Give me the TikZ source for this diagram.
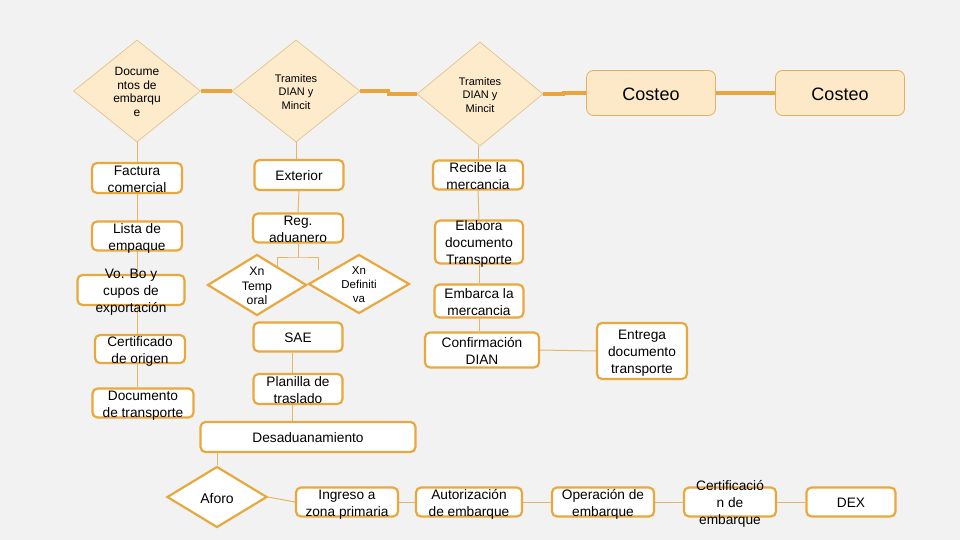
\documentclass[tikz,border=0pt]{standalone}
\usepackage{fontspec}
\setmainfont{Liberation Sans}
\usetikzlibrary{shapes.geometric,backgrounds}
\definecolor{bgc}{HTML}{F2F2F2}
\definecolor{boxc}{HTML}{E8A83E}
\definecolor{tdf}{HTML}{FDEBCB}
\definecolor{tdc}{HTML}{DFBE84}
\definecolor{lnc}{HTML}{E6B462}
\definecolor{tkc}{HTML}{E9A43C}
\definecolor{cstf}{HTML}{FDE9C8}
\definecolor{cstd}{HTML}{E2B160}
\newcommand{\tx}[1]{\raisebox{-0.45em}[0pt][0pt]{\makebox[0pt]{\begin{tabular}{@{}c@{}}#1\end{tabular}}}}
\newcommand{\fs}[2]{\fontsize{#1}{#2}\selectfont}

\begin{document}
\begin{tikzpicture}[x=1pt, y=-1pt,
    bx/.style={draw=boxc, line width=2.2pt, rounded corners=5pt, fill=white, inner sep=0pt, font=\fs{13.7}{17}},
    cst/.style={draw=cstd, line width=0.8pt, rounded corners=7pt, fill=cstf, inner sep=0pt,
      minimum width=129pt, minimum height=45pt, font=\fs{18}{21}},
    tdia/.style={diamond, draw=tdc, fill=tdf, line width=0.6pt, inner sep=0pt},
    xdia/.style={diamond, draw=boxc, fill=white, line width=2.2pt, inner sep=0pt},
    ln/.style={draw=lnc, line width=1pt},
    tk/.style={draw=tkc, line width=3.5pt},
  ]
  \begin{scope}[on background layer]
    \fill[bgc] (0,0) rectangle (960,540);
  \end{scope}
  \useasboundingbox (0,0) rectangle (960,540);

  \node[tdia, minimum width=127pt, minimum height=102pt, font=\fs{12}{13.5}] (d1) at (137,91) {\tx{Docume\\ntos de\\embarqu\\e}};
  \node[tdia, minimum width=128pt, minimum height=102pt, font=\fs{11}{13.5}] (d2) at (296,91) {\tx{Tramites\\DIAN y\\Mincit}};
  \node[tdia, minimum width=126pt, minimum height=104pt, font=\fs{11}{13.5}] (d3) at (480,94) {\tx{Tramites\\DIAN y\\Mincit}};
  \node[cst] (cst1) at (651,93) {\tx{Costeo}};
  \node[cst] (cst2) at (840,93) {\tx{Costeo}};

  \node[bx, minimum width=90pt, minimum height=30pt] (fac) at (137,178) {\tx{Factura\\comercial}};
  \node[bx, minimum width=90pt, minimum height=29pt] (lis) at (137,236) {\tx{Lista de\\empaque}};
  \node[bx, minimum width=107pt, minimum height=30pt] (vob) at (131,290) {\tx{Vo. Bo y\\cupos de\\exportación}};
  \node[bx, minimum width=90pt, minimum height=28pt] (cer) at (140,349) {\tx{Certificado\\de origen}};
  \node[bx, minimum width=101pt, minimum height=29pt] (doc) at (143,403) {\tx{Documento\\de transporte}};

  \node[bx, minimum width=89pt, minimum height=30pt] (ext) at (299,175) {\tx{Exterior}};
  \node[bx, minimum width=90pt, minimum height=29pt] (reg) at (298,228) {\tx{Reg.\\aduanero}};
  \node[xdia, minimum width=99pt, minimum height=61pt, font=\fs{12.3}{14.5}] (xt) at (257,285) {\tx{Xn\\Temp\\oral}};
  \node[xdia, minimum width=101pt, minimum height=59pt, font=\fs{11.5}{14}] (xd) at (359,284) {\tx{Xn\\Definiti\\va}};
  \node[bx, minimum width=89pt, minimum height=29pt] (sae) at (298,337) {\tx{SAE}};
  \node[bx, minimum width=89pt, minimum height=30pt] (pla) at (298,389) {\tx{Planilla de\\traslado}};
  \node[bx, minimum width=215pt, minimum height=30pt] (des) at (308,437) {\tx{Desaduanamiento}};

  \node[xdia, minimum width=100pt, minimum height=61pt, font=\fs{14}{17}] (afo) at (217,497) {\tx{Aforo}};
  \node[bx, minimum width=102pt, minimum height=29pt] (ing) at (347,502) {\tx{Ingreso a\\zona primaria}};
  \node[bx, minimum width=106pt, minimum height=29pt] (aut) at (469,502) {\tx{Autorización\\de embarque}};
  \node[bx, minimum width=102pt, minimum height=29pt] (ope) at (603,502) {\tx{Operación de\\embarque}};
  \node[bx, minimum width=92pt, minimum height=29pt] (cef) at (730,502) {\tx{Certificació\\n de\\embarque}};
  \node[bx, minimum width=89pt, minimum height=29pt] (dex) at (851,502) {\tx{DEX}};

  \node[bx, minimum width=90pt, minimum height=29pt] (rec) at (478,175) {\tx{Recibe la\\mercancia}};
  \node[bx, minimum width=88pt, minimum height=43pt] (ela) at (479,242) {\tx{Elabora\\documento\\Transporte}};
  \node[bx, minimum width=89pt, minimum height=33pt] (emb) at (479,301) {\tx{Embarca la\\mercancia}};
  \node[bx, minimum width=114pt, minimum height=35pt] (con) at (482,350) {\tx{Confirmación\\DIAN}};
  \node[bx, minimum width=90pt, minimum height=56pt] (ent) at (642,351) {\tx{Entrega\\documento\\transporte}};

  \coordinate (brk) at (298,257);
  \coordinate (brl) at (277,272);
  \coordinate (brr) at (318,270);

  \begin{scope}[on background layer]
    \draw[tk] (d1.east) -- ++(17,0) |- (d2.west);
    \draw[tk] (d2.east) -- ++(28,0) |- (d3.west);
    \draw[tk] (d3.east) -- ++(20,0) |- (cst1.west);
    \draw[tk] (cst1.east) -- (cst2.west);
    \draw[ln] (d1.south) -- (d1.south |- doc.north);
    \draw[ln] (d2.south) -- (d2.south |- ext.north);
    \draw[ln] (ext.south) -- (reg.north);
    \draw[ln] (reg.south) -- (brk);
    \draw[ln] (brl) |- (brk) -| (brr);
    \draw[ln] ([xshift=-6pt]sae.south) -- ([xshift=-6pt]pla.north);
    \draw[ln] ([xshift=-6pt]pla.south) -- ([xshift=-6pt]pla.south |- des.north);
    \draw[ln] (afo.north |- des.south) -- (afo.north);
    \draw[ln] (afo.east) -- (ing.west);
    \draw[ln] (ing.east) -- (aut.west);
    \draw[ln] (aut.east) -- (ope.west);
    \draw[ln] (ope.east) -- (cef.west);
    \draw[ln] (cef.east) -- (dex.west);
    \draw[ln] (d3.south -| rec.north) -- (rec.north);
    \draw[ln] (rec.south) -- (ela.north);
    \draw[ln] (ela.south) -- (emb.north);
    \draw[ln] (emb.south) -- (con.north -| emb.south);
    \draw[ln] (con.east) -- (ent.west);
  \end{scope}
\end{tikzpicture}
\end{document}
